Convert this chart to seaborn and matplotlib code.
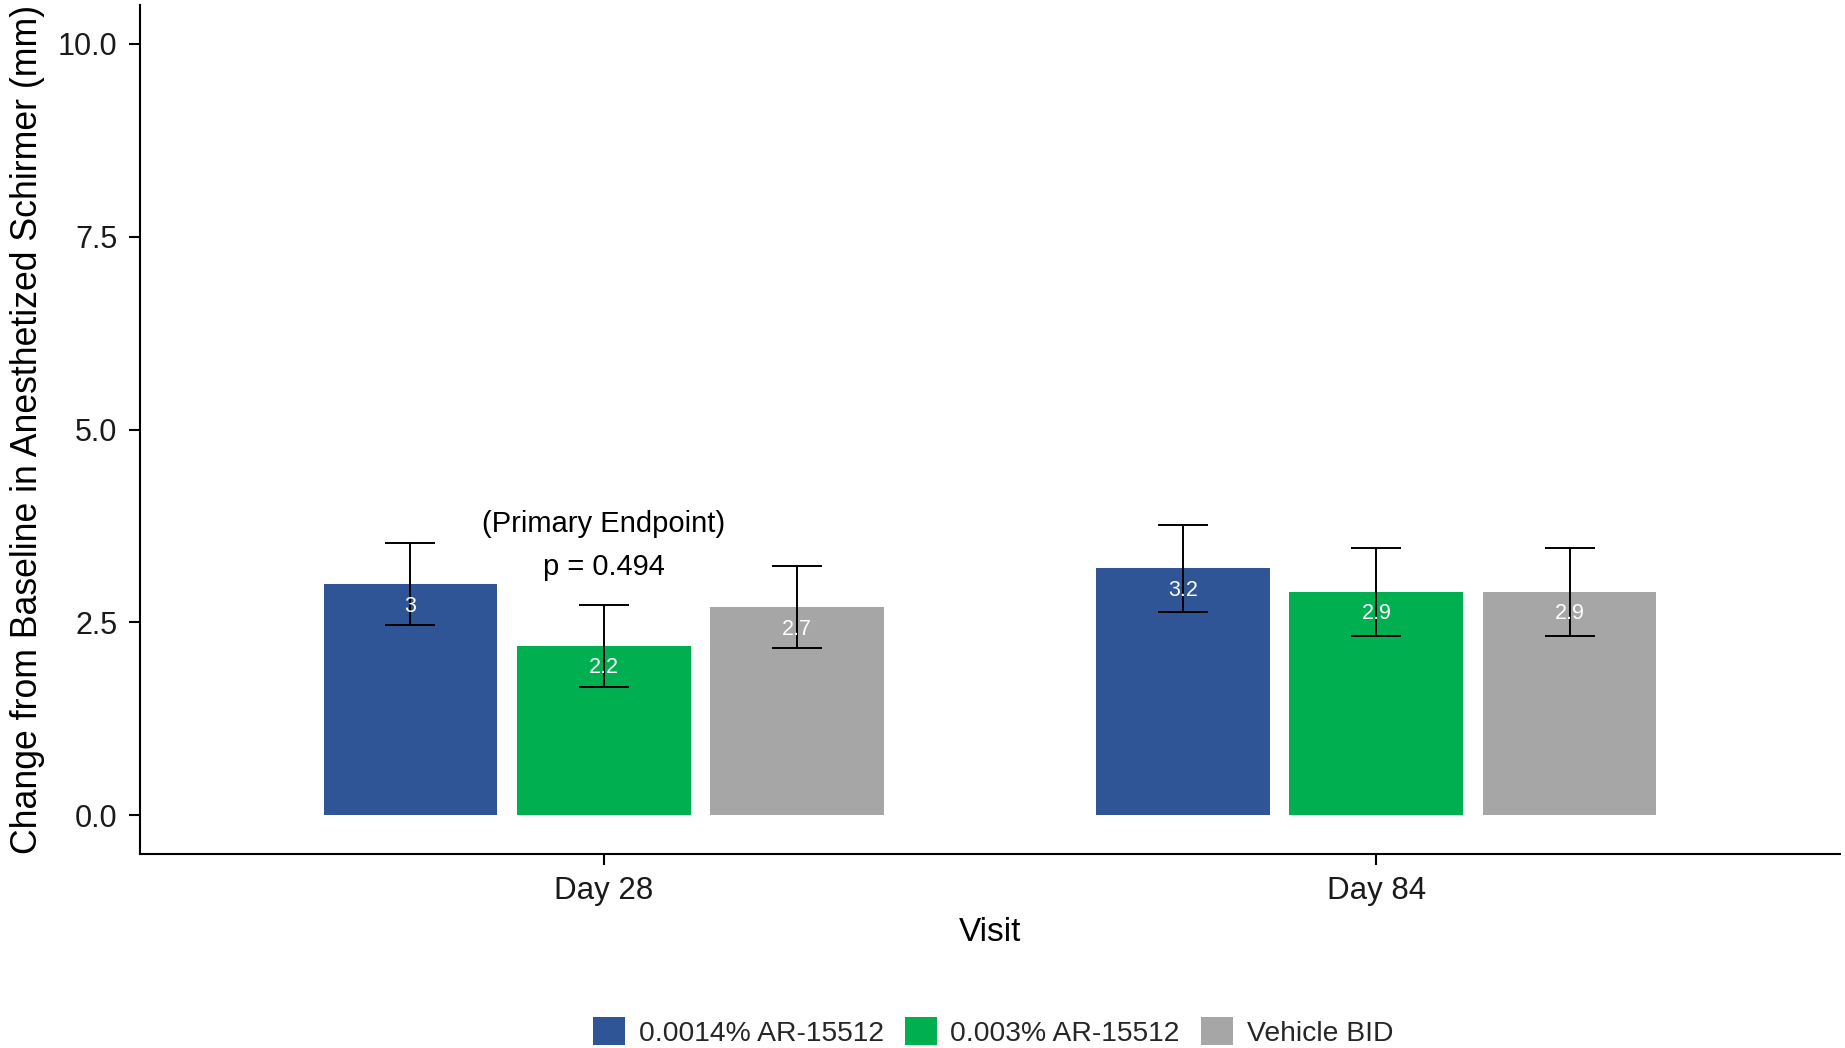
import matplotlib
matplotlib.use("Agg")
import matplotlib.pyplot as plt
import seaborn as sns
import pandas as pd

# --- data ---
visits = ["Day 28", "Day 84"]
treatments = ["0.0014% AR-15512", "0.003% AR-15512", "Vehicle BID"]
mean_day28 = [3.0, 2.2, 2.7]
mean_day84 = [3.2, 2.9, 2.9]
err_day28 = [0.53, 0.53, 0.53]
err_day84 = [0.56, 0.57, 0.57]
colors = ["#2F5597", "#00B050", "#A6A6A6"]
ytick_values = [0.0, 2.5, 5.0, 7.5, 10.0]
ytick_labels = ["0.0", "2.5", "5.0", "7.5", "10.0"]
annotation_lines = ["(Primary Endpoint)", "p = 0.494"]
annotation_y = [3.77, 3.22]

means = {"Day 28": mean_day28, "Day 84": mean_day84}
errs = {"Day 28": err_day28, "Day 84": err_day84}
rows = []
for v in visits:
    for t, m, e in zip(treatments, means[v], errs[v]):
        rows.append({"Visit": v, "Treatment": t, "Change": m, "SE": e})
df = pd.DataFrame(rows)

sns.set_theme(style="ticks")
plt.rcParams["font.family"] = ["Liberation Sans", "DejaVu Sans"]

fig = plt.figure(figsize=(18.45, 10.48), dpi=100)
ax = fig.add_axes([0.07588, 0.18511, 0.92141, 0.81012])

sns.barplot(
    data=df, x="Visit", y="Change", hue="Treatment",
    order=visits, hue_order=treatments, palette=colors,
    width=0.75, gap=0.1, errorbar=None, linewidth=0,
    saturation=1, ax=ax,
)

# error bars and white value labels on each bar
for container, t in zip(ax.containers, treatments):
    for bar, v in zip(container, visits):
        row = df[(df.Visit == v) & (df.Treatment == t)].iloc[0]
        xc = bar.get_x() + bar.get_width() / 2
        ax.errorbar(xc, row.Change, yerr=row.SE, fmt="none", ecolor="black",
                    elinewidth=1.4, capsize=18.3, capthick=1.4, zorder=3)
        ax.text(xc, row.Change - 0.29, f"{row.Change:g}", ha="center",
                va="center", color="white", fontsize=15.5, zorder=4)

# annotation above the Day 28 group
for txt, yy in zip(annotation_lines, annotation_y):
    ax.text(0, yy, txt, ha="center", va="center", fontsize=21, color="black")

ax.set_xlim(-0.6, 1.6)
ax.set_ylim(-0.5, 10.5)
ax.set_yticks(ytick_values)
ax.set_yticklabels(ytick_labels)

ax.set_xlabel("Visit", fontsize=24, color="black", va="center")
ax.set_ylabel("Change from Baseline in Anesthetized Schirmer (mm)",
              fontsize=25.7, color="black", va="center")
ax.xaxis.set_label_coords(0.5, -0.092)
ax.yaxis.set_label_coords(-0.066, 0.5)

ax.tick_params(axis="both", length=8, width=1.5, color="black",
               labelcolor="#1a1a1a")
ax.tick_params(axis="y", labelsize=22, pad=8.4)
ax.tick_params(axis="x", labelsize=22.5, pad=7.5)

for side in ["top", "right"]:
    ax.spines[side].set_visible(False)
for side in ["left", "bottom"]:
    ax.spines[side].set_linewidth(1.5)
    ax.spines[side].set_color("black")

handles, labels = ax.get_legend_handles_labels()
ax.get_legend().remove()
fig.legend(handles, labels, loc="center", bbox_to_anchor=(0.5382, 0.0153),
           ncol=3, frameon=False, fontsize=20.3, handlelength=1.15,
           handleheight=1.15, handletextpad=0.47, columnspacing=0.75,
           borderpad=0, borderaxespad=0)

fig.savefig("out.png", dpi=100)
